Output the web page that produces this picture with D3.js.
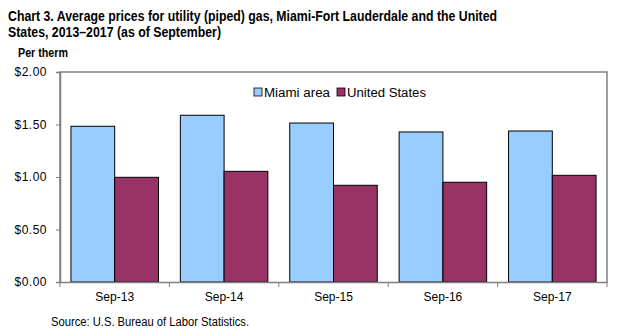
<!DOCTYPE html>
<html>
<head>
<meta charset="utf-8">
<script src="https://cdn.jsdelivr.net/npm/d3@7"></script>
<style>
  body { margin: 0; background: #fff; }
  text { font-family: Arial, "Liberation Sans", sans-serif; fill: #000; }
</style>
</head>
<body>
<div class="chart"></div>
<script>
var categories = ["Sep-13", "Sep-14", "Sep-15", "Sep-16", "Sep-17"];
var seriesNames = ["Miami area", "United States"];
var miami = [1.483, 1.588, 1.514, 1.429, 1.438];
var usa = [0.997, 1.054, 0.921, 0.950, 1.016];
var yTicks = [0, 0.5, 1, 1.5, 2];
var colors = ["#99ccff", "#993366"];

var svgWidth = 625;
var svgHeight = 336;
var plot = {left: 60, right: 607, top: 72, bottom: 282};

var svg = d3.select(".chart")
            .append("svg")
            .attr("width", svgWidth)
            .attr("height", svgHeight);

// title
svg.append("text")
    .attr("x", 8).attr("y", 20.5)
    .attr("font-size", 15).attr("font-weight", "bold")
    .attr("textLength", 489).attr("lengthAdjust", "spacingAndGlyphs")
    .text("Chart 3. Average prices for utility (piped) gas, Miami-Fort Lauderdale and the United");
svg.append("text")
    .attr("x", 8).attr("y", 36.5)
    .attr("font-size", 15).attr("font-weight", "bold")
    .attr("textLength", 213).attr("lengthAdjust", "spacingAndGlyphs")
    .text("States, 2013\u20132017  (as of September)");
svg.append("text")
    .attr("x", 18).attr("y", 57)
    .attr("font-size", 13.5).attr("font-weight", "bold")
    .attr("textLength", 50).attr("lengthAdjust", "spacingAndGlyphs")
    .text("Per therm");

var x0 = d3.scaleBand()
    .domain(categories)
    .range([plot.left, plot.right])
    .paddingInner(0.2)
    .paddingOuter(0.1);

var x1 = d3.scaleBand()
    .domain(seriesNames)
    .range([0, x0.bandwidth()]);

var y = d3.scaleLinear()
    .domain([0, 2])
    .range([plot.bottom, plot.top]);

// plot border
svg.append("path")
    .attr("d", "M" + plot.left + "," + plot.bottom + "V" + plot.top + "H" + plot.right + "V" + plot.bottom)
    .attr("fill", "none")
    .attr("stroke", "#808080")
    .attr("stroke-width", 1.5);

var rows = categories.map(function(c, i) { return [miami[i], usa[i]]; });

var groups = svg.selectAll("g.cat")
    .data(rows)
    .enter()
    .append("g")
    .attr("class", "cat")
    .attr("transform", function(d, i) { return "translate(" + x0(categories[i]) + ",0)"; });

groups.selectAll("rect")
    .data(function(d) { return d; })
    .enter()
    .append("rect")
    .attr("x", function(d, j) { return x1(seriesNames[j]); })
    .attr("y", function(d) { return y(d); })
    .attr("width", x1.bandwidth())
    .attr("height", function(d) { return y(0) - y(d); })
    .attr("fill", function(d, j) { return colors[j]; })
    .attr("stroke", "#000")
    .attr("stroke-width", 1);

// y axis
var yAxis = svg.append("g")
    .attr("transform", "translate(" + plot.left + ",0)")
    .call(d3.axisLeft(y).tickValues(yTicks).tickSize(4).tickPadding(9)
      .tickFormat(function(d) { return "$" + d3.format(".2f")(d); }));
yAxis.select(".domain").attr("stroke", "#808080").attr("stroke-width", 1.5);
yAxis.selectAll(".tick line").attr("stroke", "#808080");
yAxis.selectAll("text").attr("font-size", 12).attr("font-family", "Arial, 'Liberation Sans', sans-serif")
    .attr("letter-spacing", 0.5);

// x axis
var xAxis = svg.append("g")
    .attr("transform", "translate(0," + plot.bottom + ")")
    .call(d3.axisBottom(x0).tickSize(0).tickPadding(10));
xAxis.select(".domain").attr("stroke", "#808080").attr("stroke-width", 1.5);
xAxis.selectAll("text").attr("font-size", 12).attr("font-family", "Arial, 'Liberation Sans', sans-serif");

var step = (plot.right - plot.left) / categories.length;
xAxis.selectAll("line.sep")
    .data(d3.range(categories.length + 1))
    .enter()
    .append("line")
    .attr("class", "sep")
    .attr("x1", function(d) { return plot.left + d * step; })
    .attr("x2", function(d) { return plot.left + d * step; })
    .attr("y1", 0).attr("y2", 5)
    .attr("stroke", "#808080");

// legend
var legendX = [254, 337];
var legendW = [66, 79];
var legend = svg.selectAll("g.legend")
    .data(seriesNames)
    .enter()
    .append("g")
    .attr("class", "legend")
    .attr("transform", function(d, i) { return "translate(" + legendX[i] + ",88)"; });
legend.append("rect")
    .attr("width", 8).attr("height", 8)
    .attr("fill", function(d, i) { return colors[i]; })
    .attr("stroke", "#000").attr("stroke-width", 0.8);
legend.append("text")
    .attr("x", 10).attr("y", 8.5)
    .attr("font-size", 12)
    .attr("textLength", function(d, i) { return legendW[i]; })
    .attr("lengthAdjust", "spacingAndGlyphs")
    .text(function(d) { return d; });

// source
svg.append("text")
    .attr("x", 51).attr("y", 326)
    .attr("font-size", 12)
    .attr("textLength", 198).attr("lengthAdjust", "spacingAndGlyphs")
    .text("Source: U.S. Bureau of Labor Statistics.");
</script>
</body>
</html>
